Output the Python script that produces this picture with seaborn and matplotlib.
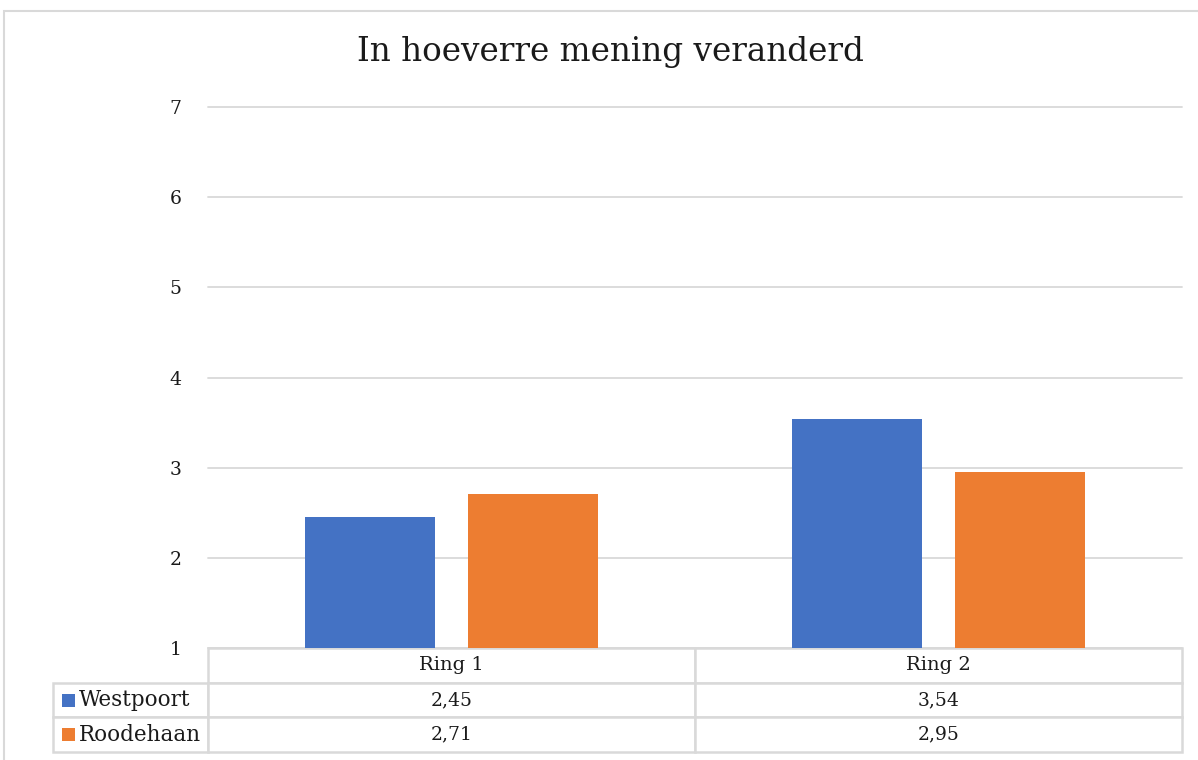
import matplotlib
matplotlib.use("Agg")
import matplotlib.pyplot as plt
from matplotlib.patches import Rectangle
import seaborn as sns
import pandas as pd

categories = ["Ring 1", "Ring 2"]
series_names = ["Westpoort", "Roodehaan"]
westpoort = [2.45, 3.54]
roodehaan = [2.71, 2.95]
colors = ["#4472C4", "#ED7D31"]
yticks = [1, 2, 3, 4, 5, 6, 7]
title = "In hoeverre mening veranderd"

sns.set_theme(style="white")
plt.rcParams["font.family"] = ["DejaVu Serif"]

rows = []
for name, vals in zip(series_names, [westpoort, roodehaan]):
    for c, v in zip(categories, vals):
        rows.append({"Ring": c, "Locatie": name, "Waarde": v})
df = pd.DataFrame(rows)

W, H = 1198, 760
fig = plt.figure(figsize=(W / 100, H / 100), dpi=100)
fig.patch.set_facecolor("white")

# outer chart border
fig.patches.append(Rectangle((4 / W, -0.01), 1.0, (760 - 11) / H + 0.01,
                             transform=fig.transFigure, fill=False,
                             edgecolor="#d9d9d9", lw=1.5))

ax = fig.add_axes([208 / W, (H - 648) / H, (1182 - 208) / W, (648 - 107) / H])
sns.barplot(data=df, x="Ring", y="Waarde", hue="Locatie", palette=colors,
            width=0.67, gap=0.2, saturation=1, legend=False, ax=ax, zorder=3,
            linewidth=0)

ax.set_ylim(1, 7)
ax.set_yticks(yticks)
ax.set_yticklabels([str(t) for t in yticks], fontsize=13.5)
ax.yaxis.grid(True, color="#d9d9d9", lw=1.3, zorder=0)
for gl in ax.get_ygridlines():
    gl.set_clip_on(False)
ax.set_axisbelow(True)
ax.tick_params(axis="y", length=0, pad=19, labelcolor="#1a1a1a")
ax.set_xticks([])
ax.set_xlabel("")
ax.set_ylabel("")
for s in ax.spines.values():
    s.set_visible(False)

fmt = lambda v: f"{v:.2f}".replace(".", ",")
cell_text = [[fmt(v) for v in westpoort], [fmt(v) for v in roodehaan]]
rlw = 155 / 974
tab_h = (752 - 648) / 541
table = ax.table(cellText=cell_text, rowLabels=series_names, colLabels=categories,
                 colWidths=[0.5, 0.5], cellLoc="center", rowLoc="left",
                 bbox=[0, -tab_h, 1, tab_h])
table._autoColumns = []
table.auto_set_font_size(False)
for (r, c), cell in table.get_celld().items():
    cell.set_edgecolor("#d9d9d9")
    cell.set_linewidth(1.8)
    cell.get_text().set_fontsize(13.5)
    cell.get_text().set_color("#1a1a1a")
    if r == 0:
        cell.get_text().set_fontsize(14)
    if c == -1:
        cell.set_width(rlw)
        cell.PAD = 0.17
        cell.get_text().set_fontsize(15.5)

fig.canvas.draw()
cells = table.get_celld()
for i, col in enumerate(colors):
    cell = cells[(i + 1, -1)]
    x0, y0, h = cell.get_x(), cell.get_y(), cell.get_height()
    sq_w = 13 / 974
    sq_h = 13 / 541
    ax.add_patch(Rectangle((x0 + 9 / 974, y0 + h / 2 - sq_h / 2), sq_w, sq_h,
                           transform=ax.transAxes, facecolor=col,
                           edgecolor="none", clip_on=False, zorder=5))

fig.text(610 / W, (H - 52) / H, title, ha="center", va="center",
         fontsize=23.5, color="#1a1a1a")

fig.savefig("out.png", dpi=100)
